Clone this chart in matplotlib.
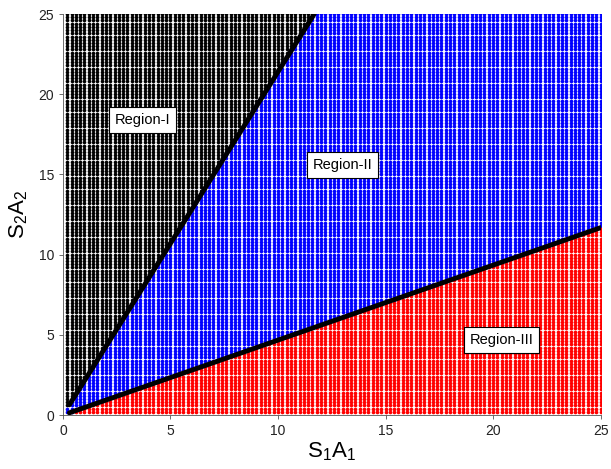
import matplotlib.pyplot as plt
import numpy as np

plt.rcParams['font.family'] = ['Liberation Sans', 'DejaVu Sans']
plt.rcParams['mathtext.fontset'] = 'custom'
plt.rcParams['mathtext.rm'] = 'Liberation Sans'

# grid of evaluated points (S1A1, S2A2)
grid_start = 0.2
grid_stop = 25.0
grid_step = 0.2

# boundary slopes
upper_slope = 2.14
lower_slope = 1 / 2.14
line_x0 = 0.3

ticks = [0, 5, 10, 15, 20, 25]
labels = ['Region-I', 'Region-II', 'Region-III']
label_x = [3.7, 13.0, 20.4]
label_y = [18.4, 15.6, 4.7]

vals = np.arange(grid_start, grid_stop + grid_step / 2, grid_step)
X, Y = np.meshgrid(vals, vals)
X = X.ravel()
Y = Y.ravel()
black = Y > upper_slope * X
red = Y < lower_slope * X
blue = ~(black | red)

fig = plt.figure(figsize=(6.11, 4.69), dpi=100)
ax = fig.add_axes([0.103, 0.115, 0.880, 0.855])

ax.scatter(X[black], Y[black], s=7, c='black', marker='o', linewidths=0)
ax.scatter(X[blue], Y[blue], s=7, c='#0000FF', marker='o', linewidths=0)
ax.scatter(X[red], Y[red], s=7, c='#FF0000', marker='o', linewidths=0)

ax.plot([line_x0, grid_stop / upper_slope], [upper_slope * line_x0, grid_stop], color='black', lw=3.5, solid_capstyle='round')
ax.plot([line_x0, grid_stop], [lower_slope * line_x0, lower_slope * grid_stop], color='black', lw=3.5, solid_capstyle='round')

for t, x, y in zip(labels, label_x, label_y):
    ax.text(x, y, t, fontsize=10.5, ha='center', va='center',
            bbox=dict(facecolor='white', edgecolor='black', boxstyle='square,pad=0.4', lw=0.8))

ax.set_xlim(0, 25)
ax.set_ylim(0, 25)
ax.set_xticks(ticks)
ax.set_yticks(ticks)
ax.tick_params(labelsize=10, length=3, width=0.6, color='#555555', labelcolor='#222222')
for sp in ax.spines.values():
    sp.set_linewidth(0.6)
    sp.set_color('#555555')
ax.spines['top'].set_visible(False)
ax.spines['right'].set_visible(False)

ax.set_xlabel(r'$\mathregular{S_1A_1}$', fontsize=16, labelpad=2)
ax.set_ylabel(r'$\mathregular{S_2A_2}$', fontsize=16, labelpad=6)

fig.savefig('out.png', dpi=100)
